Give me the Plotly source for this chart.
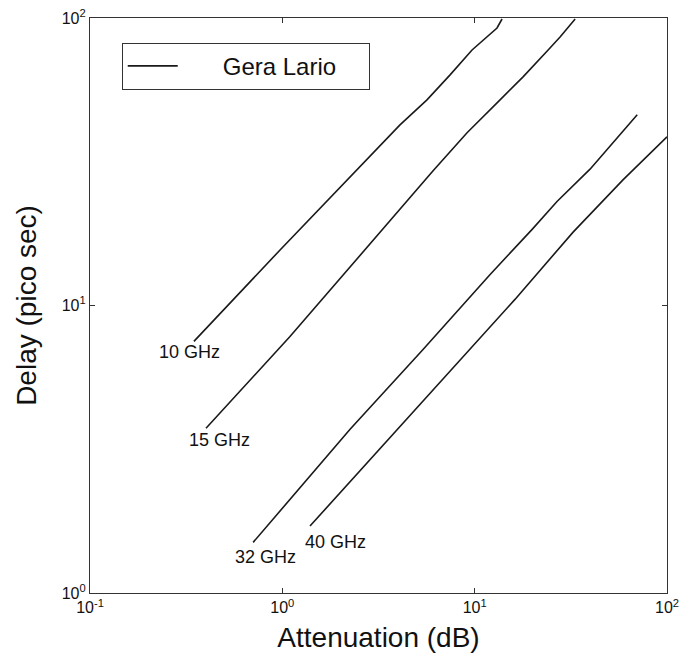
import math
import plotly.graph_objects as go

# Data (Attenuation dB, Delay ps)
att_10 = [0.347, 0.973, 4.09, 5.65, 7.45, 9.69, 13.07, 13.88]
del_10 = [7.50, 15.6, 42.5, 51.9, 63.4, 77.4, 92.3, 99.2]

att_15 = [0.401, 1.096, 6.08, 9.13, 13.55, 17.85, 24.1, 27.8, 33.3]
del_15 = [3.74, 7.80, 29.4, 39.9, 51.9, 62.4, 77.4, 85.9, 99.2]

att_32 = [0.705, 1.393, 2.25, 5.39, 12.0, 19.9, 26.8, 39.8, 70.0]
del_32 = [1.50, 2.55, 3.71, 7.03, 12.8, 18.4, 23.0, 29.8, 46.1]

att_40 = [1.393, 3.95, 12.0, 16.2, 32.5, 59.2, 100.0]
del_40 = [1.71, 3.71, 8.46, 10.5, 18.0, 27.4, 38.6]

curve_labels = ["10 GHz", "15 GHz", "32 GHz", "40 GHz"]
label_x = [0.331, 0.469, 0.813, 1.90]
label_y = [6.87, 3.40, 1.33, 1.50]

x_ticks = [0.1, 1, 10, 100]
x_ticktext = ["10<sup>-1</sup>", "10<sup>0</sup>", "10<sup>1</sup>", "10<sup>2</sup>"]
y_ticks = [1, 10, 100]
y_ticktext = ["10<sup>0</sup>", "10<sup>1</sup>", "10<sup>2</sup>"]

FONT = "Liberation Sans, Arial, sans-serif"
fig = go.Figure()
series = [(att_10, del_10), (att_15, del_15), (att_32, del_32), (att_40, del_40)]
for i, (xs, ys) in enumerate(series):
    fig.add_trace(go.Scatter(
        x=xs, y=ys, mode="lines",
        line=dict(color="#1a1a1a", width=1.6),
        name="      Gera Lario    ",
        showlegend=(i == 0),
    ))

# annotations on log axes are positioned in log10 units
for t, lx, ly in zip(curve_labels, label_x, label_y):
    fig.add_annotation(x=math.log10(lx), y=math.log10(ly), xref="x", yref="y",
                       text=t, showarrow=False,
                       font=dict(size=18, color="#111", family=FONT),
                       xanchor="center", yanchor="middle")

axis_common = dict(
    type="log", showgrid=False, zeroline=False, automargin=False,
    showline=True, linecolor="#333", linewidth=1.2, mirror="ticks",
    ticks="inside", ticklen=5, tickcolor="#333", tickwidth=1,
    tickfont=dict(size=16, color="#111", family=FONT),
    ticklabeloverflow="allow",
)

fig.update_xaxes(range=[-1, 2], tickvals=x_ticks, ticktext=x_ticktext,
                 title=dict(text="Attenuation (dB)", font=dict(size=28, color="#111", family=FONT), standoff=12),
                 **axis_common)
fig.update_yaxes(range=[0, 2], tickvals=y_ticks, ticktext=y_ticktext,
                 title=dict(text="Delay (pico sec)", font=dict(size=28, color="#111", family=FONT), standoff=16),
                 **axis_common)

fig.update_layout(
    width=682, height=664,
    margin=dict(l=90, r=15, t=18, b=71),
    paper_bgcolor="white", plot_bgcolor="white",
    font=dict(family=FONT, color="#111"),
    legend=dict(x=0.055, y=0.957, xanchor="left", yanchor="top",
                bgcolor="white", bordercolor="#333", borderwidth=1,
                font=dict(size=24, color="#111", family=FONT),
                itemwidth=50),
)

# remove the browser's default body margin so the figure fills the window exactly
fig.write_html("out.html",
               config={"displayModeBar": False},
               post_script="document.body.style.margin='0';document.body.style.overflow='hidden';")
